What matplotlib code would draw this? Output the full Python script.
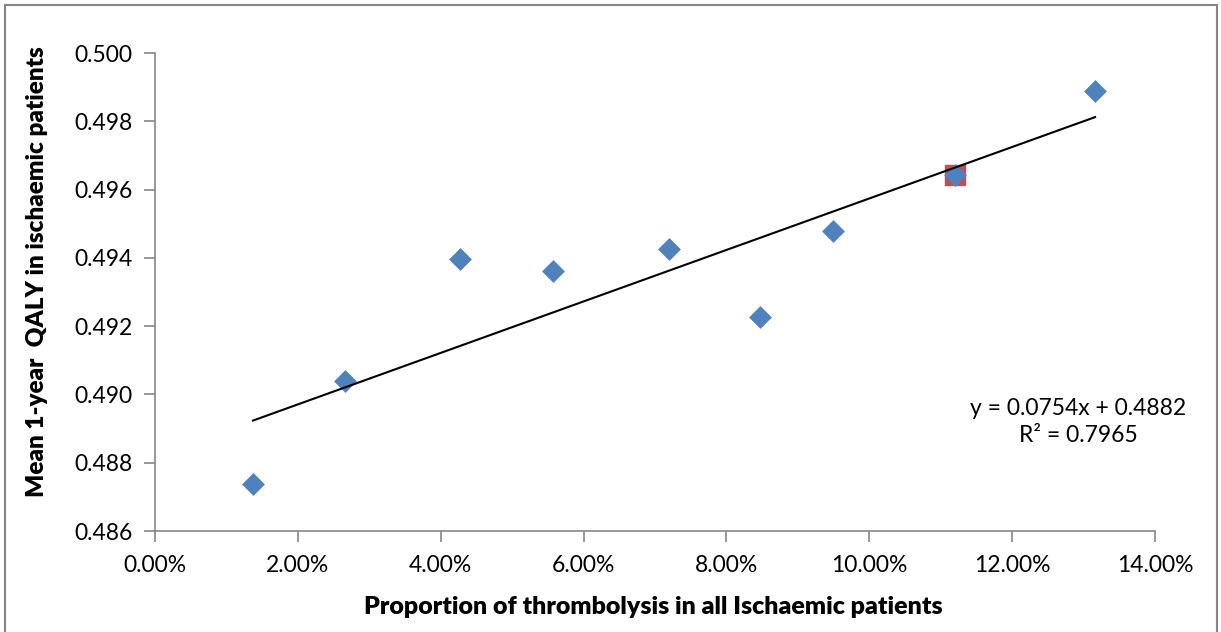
import matplotlib
matplotlib.use('Agg')
import matplotlib.pyplot as plt
from matplotlib.patches import Rectangle
from matplotlib.ticker import FuncFormatter
import numpy as np

# proportion of thrombolysis (fraction) vs mean 1-year QALY
proportion = [0.01372, 0.02660, 0.04270, 0.05570, 0.07200, 0.08470, 0.09490, 0.11200, 0.13160]
qaly = [0.48738, 0.49039, 0.49397, 0.49362, 0.49426, 0.49227, 0.49479, 0.49643, 0.49889]
highlight_x = [0.11200]
highlight_y = [0.49643]
slope = 0.0754
intercept = 0.4882
eq_text = 'y = 0.0754x + 0.4882\nR² = 0.7965'

plt.rcParams['font.family'] = ['Lato', 'DejaVu Sans']
grey = '#868686'

fig = plt.figure(figsize=(12.21, 6.32), dpi=100)
ax = fig.add_axes([0.1269, 0.1598, 0.8191, 0.7563])

ax.scatter(highlight_x, highlight_y, marker='s', s=220, color='#C0504D', zorder=2)
ax.scatter(proportion, qaly, marker='D', s=135, color='#4F81BD', zorder=3, linewidths=0)

xs = np.array([min(proportion), max(proportion)])
ax.plot(xs, slope * xs + intercept, color='black', lw=1.5, zorder=4)

ax.set_xlim(0, 0.14)
ax.set_ylim(0.486, 0.500)
ax.set_xticks(np.arange(0, 0.1401, 0.02))
ax.set_yticks(np.arange(0.486, 0.5001, 0.002))
ax.xaxis.set_major_formatter(FuncFormatter(lambda v, p: f'{v*100:.2f}%'))
ax.yaxis.set_major_formatter(FuncFormatter(lambda v, p: f'{v:.3f}'))

for s in ['top', 'right']:
    ax.spines[s].set_visible(False)
for s in ['left', 'bottom']:
    ax.spines[s].set_color(grey)
    ax.spines[s].set_linewidth(1.2)
ax.tick_params(axis='both', colors=grey, length=8, width=1.2, labelsize=16.5, labelcolor='black')
ax.tick_params(axis='x', pad=9)
ax.tick_params(axis='y', pad=8)

fig.text(653 / 1221, 1 - 607 / 632, 'Proportion of thrombolysis in all Ischaemic patients',
         ha='center', va='center', fontsize=18, fontweight='heavy')
fig.text(37 / 1221, 1 - 272 / 632, 'Mean 1-year  QALY in ischaemic patients',
         ha='center', va='center', rotation=90, fontsize=17.5, fontweight='heavy')

fig.text(1078 / 1221, 1 - 422 / 632, eq_text, ha='center', va='center',
         fontsize=16.5, linespacing=1.3)

fig.patches.append(Rectangle((5 / 1221, -0.01), 1212 / 1221, 1 - 5 / 632 + 0.01,
                             transform=fig.transFigure, fill=False,
                             edgecolor=grey, lw=1.5))

fig.savefig('out.png', dpi=100)
